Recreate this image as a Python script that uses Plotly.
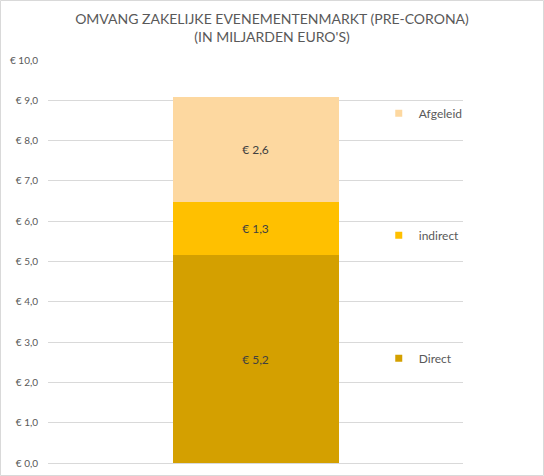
import plotly.graph_objects as go

categories = ['']
series_names = ['Direct', 'indirect', 'Afgeleid']
series_values = [5.16, 1.31, 2.62]
series_colors = ['#D4A000', '#FFC000', '#FDD8A0']
tick_values = [0, 1, 2, 3, 4, 5, 6, 7, 8, 9, 10]
tick_labels = ['€ ' + f'{v:.1f}'.replace('.', ',') for v in tick_values]

title = 'OMVANG ZAKELIJKE EVENEMENTENMARKT (PRE-CORONA)<br>(IN MILJARDEN EURO\'S)'
font_family = 'Lato, Carlito, Calibri, sans-serif'
grey = '#595959'

fig = go.Figure()

legend_names = ['legend3', 'legend2', 'legend']
legend_y = [0.26, 0.565, 0.868]

for name, value, color, lg in zip(series_names, series_values, series_colors, legend_names):
    fig.add_trace(go.Bar(x=categories, y=[value], name=name,
                         marker=dict(color=color, line=dict(width=0)),
                         width=0.4,
                         texttemplate='€ %{y:.1f}', textposition='inside',
                         insidetextanchor='middle',
                         textfont=dict(size=12, color='#404040', family=font_family),
                         showlegend=False,
                         hoverinfo='skip'))
    # small square legend markers, like the excel legend
    fig.add_trace(go.Scatter(x=[None], y=[None], mode='markers', name=name,
                             marker=dict(symbol='square', size=7, color=color),
                             legend=lg, showlegend=True))

legend_common = dict(x=0.797, xanchor='left', yanchor='middle', bgcolor='rgba(0,0,0,0)',
                     font=dict(size=12, color=grey, family=font_family),
                     itemwidth=30)

fig.update_layout(
    width=544, height=476,
    barmode='stack',
    separators=',.',
    plot_bgcolor='white', paper_bgcolor='white',
    margin=dict(l=48, r=81, t=60, b=13, autoexpand=False),
    title=dict(text=title, x=0.5, xanchor='center', yref='container', y=0.9496, yanchor='middle',
               font=dict(size=14, color=grey, family=font_family)),
    xaxis=dict(visible=False, range=[-0.5, 0.5]),
    yaxis=dict(range=[0, 10], tickmode='array', tickvals=tick_values, ticktext=tick_labels,
               showgrid=True, gridcolor='#D9D9D9', gridwidth=1,
               zeroline=True, zerolinecolor='#D9D9D9', zerolinewidth=1,
               showline=False, ticks='', automargin=False, ticklabelstandoff=9,
               tickfont=dict(size=10, color=grey, family=font_family)),
    legend=dict(y=legend_y[2], **legend_common),
    legend2=dict(y=legend_y[1], **legend_common),
    legend3=dict(y=legend_y[0], **legend_common),
)

# thin outer border of the chart
fig.add_shape(type='rect', xref='paper', yref='paper',
              x0=-47.5 / 415, x1=495.5 / 415, y0=-12.5 / 403, y1=1 + 59.5 / 403,
              line=dict(color='#D9D9D9', width=1), layer='below')

fig.write_html("out.html", config={'displayModeBar': False},
               post_script="document.body.style.margin='0';")
